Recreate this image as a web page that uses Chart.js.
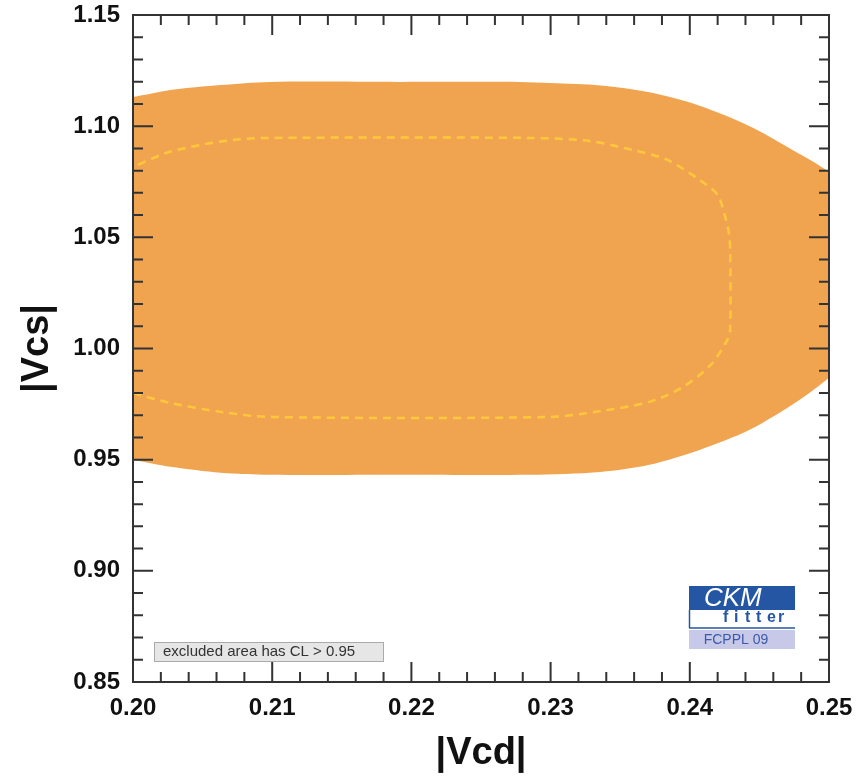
<!DOCTYPE html>
<html lang="en">
<head>
    <meta charset="UTF-8">
    <title>|Vcd| vs |Vcs|</title>
    <script src="https://cdn.jsdelivr.net/npm/chart.js"></script>
    <style>
        body, html {
            margin: 0;
            padding: 0;
            background: #fff;
        }
        #chart {
            display: block;
        }
    </style>
</head>
<body>
    <canvas id="chart" width="860" height="777"></canvas>

    <script>
        // axis ranges and tick labels
        const xMajorTicks = [0.20, 0.21, 0.22, 0.23, 0.24, 0.25];
        const xTickLabels = ['0.20', '0.21', '0.22', '0.23', '0.24', '0.25'];
        const yMajorTicks = [0.85, 0.90, 0.95, 1.00, 1.05, 1.10, 1.15];
        const yTickLabels = ['0.85', '0.90', '0.95', '1.00', '1.05', '1.10', '1.15'];

        // outer contour (excluded area boundary)
        const outerX = [0.1980, 0.2000, 0.2027, 0.2063, 0.2098, 0.2192, 0.2278, 0.2300, 0.2336, 0.2371, 0.2407, 0.2443, 0.2472, 0.2500, 0.2515,
                        0.2515, 0.2500, 0.2479, 0.2443, 0.2407, 0.2371, 0.2336, 0.2285, 0.2192, 0.2098, 0.2063, 0.2027, 0.2000, 0.1980, 0.1980];
        const outerY = [1.1110, 1.1131, 1.1163, 1.1185, 1.1199, 1.1199, 1.1199, 1.1194, 1.1183, 1.1152, 1.1092, 1.1000, 1.0900, 1.0794, 1.0700,
                        0.9950, 0.9868, 0.9769, 0.9634, 0.9544, 0.9477, 0.9445, 0.9432, 0.9432, 0.9432, 0.9441, 0.9468, 0.9499, 0.9515, 1.1110];

        // inner dashed contour
        const innerX = [0.1985, 0.2000, 0.2024, 0.2048, 0.2072, 0.2096, 0.2285, 0.2328, 0.2359, 0.2384, 0.2407, 0.2420, 0.2425, 0.2428, 0.2429,
                        0.2429, 0.2427, 0.2415, 0.2395, 0.2371, 0.2336, 0.2300, 0.2098, 0.2063, 0.2027, 0.2000, 0.1985];
        const innerY = [1.0785, 1.0817, 1.0880, 1.0915, 1.0938, 1.0947, 1.0947, 1.0933, 1.0893, 1.0848, 1.0758, 1.0691, 1.0601, 1.0524, 1.0443,
                        1.0084, 1.0039, 0.9926, 0.9827, 0.9760, 0.9719, 0.9692, 0.9692, 0.9715, 0.9755, 0.9800, 0.9830];

        const toPoints = (xs, ys) => xs.map((x, i) => ({ x: x, y: ys[i] }));
        const isMajor = (v, step) => Math.abs(v / step - Math.round(v / step)) < 1e-6;
        const labelFor = (v, ticks, labels) => {
            const i = ticks.findIndex(t => Math.abs(t - v) < 1e-6);
            return i >= 0 ? labels[i] : '';
        };
        const noScalePadding = s => {
            s.paddingTop = 0; s.paddingBottom = 0;
            s.paddingLeft = 0; s.paddingRight = 0;
        };

        // frame with inward ticks on all four sides, drawn over the filled area
        const frameTicks = {
            id: 'frameTicks',
            afterDatasetsDraw(chart) {
                const { ctx, chartArea: a, scales: { x, y } } = chart;
                ctx.save();
                ctx.strokeStyle = '#333';
                ctx.lineWidth = 2;
                ctx.strokeRect(a.left, a.top, a.right - a.left, a.bottom - a.top);
                ctx.beginPath();
                x.ticks.forEach(t => {
                    const px = x.getPixelForValue(t.value);
                    const len = isMajor(t.value, 0.01) ? 20 : 10;
                    ctx.moveTo(px, a.bottom); ctx.lineTo(px, a.bottom - len);
                    ctx.moveTo(px, a.top); ctx.lineTo(px, a.top + len);
                });
                y.ticks.forEach(t => {
                    const py = y.getPixelForValue(t.value);
                    const len = isMajor(t.value, 0.05) ? 20 : 10;
                    ctx.moveTo(a.left, py); ctx.lineTo(a.left + len, py);
                    ctx.moveTo(a.right, py); ctx.lineTo(a.right - len, py);
                });
                ctx.stroke();

                // "excluded area" note
                ctx.fillStyle = '#e6e6e6';
                ctx.fillRect(a.left + 21, a.bottom - 40, 230, 20);
                ctx.strokeStyle = '#aaa';
                ctx.lineWidth = 1;
                ctx.strokeRect(a.left + 21.5, a.bottom - 39.5, 229, 19);
                ctx.fillStyle = '#333';
                ctx.font = "15px 'Liberation Sans', Arial, sans-serif";
                ctx.textBaseline = 'middle';
                ctx.textAlign = 'left';
                ctx.fillText('excluded area has CL > 0.95', a.left + 30, a.bottom - 30);

                // CKMfitter logo
                const lx = a.right - 140, ly = a.bottom - 96;
                ctx.fillStyle = '#2456a4';
                ctx.fillRect(lx, ly, 106, 24);
                ctx.fillStyle = '#fff';
                ctx.font = "italic 26px 'Liberation Sans', Arial, sans-serif";
                ctx.textAlign = 'left';
                ctx.fillText('CKM', lx + 15, ly + 13);
                ctx.strokeStyle = '#2456a4';
                ctx.lineWidth = 1.5;
                ctx.beginPath();
                ctx.moveTo(lx + 0.5, ly + 24); ctx.lineTo(lx + 0.5, ly + 42);
                ctx.moveTo(lx, ly + 42); ctx.lineTo(lx + 106, ly + 42);
                ctx.stroke();
                ctx.fillStyle = '#2456a4';
                ctx.font = "bold 16px 'Liberation Sans', Arial, sans-serif";
                ctx.textAlign = 'left';
                'fitter'.split('').forEach((ch, i) => ctx.fillText(ch, lx + 34 + i * 11, ly + 32));
                ctx.fillStyle = '#c8c8e8';
                ctx.fillRect(lx, ly + 44, 106, 19);
                ctx.fillStyle = '#3a5aa8';
                ctx.font = "14px 'Liberation Sans', Arial, sans-serif";
                ctx.textAlign = 'center';
                ctx.fillText('FCPPL 09', lx + 47, ly + 54);
                ctx.restore();
            }
        };

        Chart.defaults.font.family = "'Liberation Sans', Arial, sans-serif";
        Chart.defaults.color = '#111';

        new Chart(document.getElementById('chart'), {
            type: 'scatter',
            data: {
                datasets: [
                    {
                        label: 'inner',
                        data: toPoints(innerX, innerY),
                        showLine: true,
                        borderColor: '#ffc83c',
                        borderWidth: 2.5,
                        borderDash: [8, 6],
                        pointRadius: 0,
                        tension: 0.3,
                        fill: false
                    },
                    {
                        label: 'outer',
                        data: toPoints(outerX, outerY),
                        showLine: true,
                        borderWidth: 0,
                        borderColor: 'rgba(0,0,0,0)',
                        backgroundColor: '#f0a450',
                        pointRadius: 0,
                        tension: 0.3,
                        fill: 'shape'
                    }
                ]
            },
            options: {
                responsive: false,
                animation: false,
                layout: { padding: { left: 0, top: 15, right: 31, bottom: 0 } },
                plugins: {
                    legend: { display: false },
                    tooltip: { enabled: false }
                },
                scales: {
                    x: {
                        type: 'linear',
                        min: 0.20,
                        max: 0.25,
                        afterFit: s => { s.height = 95; noScalePadding(s); },
                        grid: { display: false, drawTicks: false },
                        border: { display: false },
                        ticks: {
                            stepSize: 0.002,
                            autoSkip: false,
                            maxRotation: 0,
                            minRotation: 0,
                            padding: 12,
                            font: { size: 24, weight: 'bold' },
                            callback: v => labelFor(v, xMajorTicks, xTickLabels)
                        },
                        title: {
                            display: true,
                            text: '|Vcd|',
                            font: { size: 38, weight: 'bold', lineHeight: 1.2 },
                            padding: { top: 0, bottom: 1 }
                        }
                    },
                    y: {
                        type: 'linear',
                        min: 0.85,
                        max: 1.15,
                        afterFit: s => { s.width = 133; noScalePadding(s); },
                        grid: { display: false, drawTicks: false },
                        border: { display: false },
                        ticks: {
                            stepSize: 0.01,
                            autoSkip: false,
                            padding: 13,
                            font: { size: 24, weight: 'bold' },
                            callback: v => labelFor(v, yMajorTicks, yTickLabels)
                        },
                        title: {
                            display: true,
                            text: '|Vcs|',
                            font: { size: 38, weight: 'bold', lineHeight: 1.2 },
                            padding: { top: 15, bottom: 0 }
                        }
                    }
                }
            },
            plugins: [frameTicks]
        });
    </script>
</body>
</html>
